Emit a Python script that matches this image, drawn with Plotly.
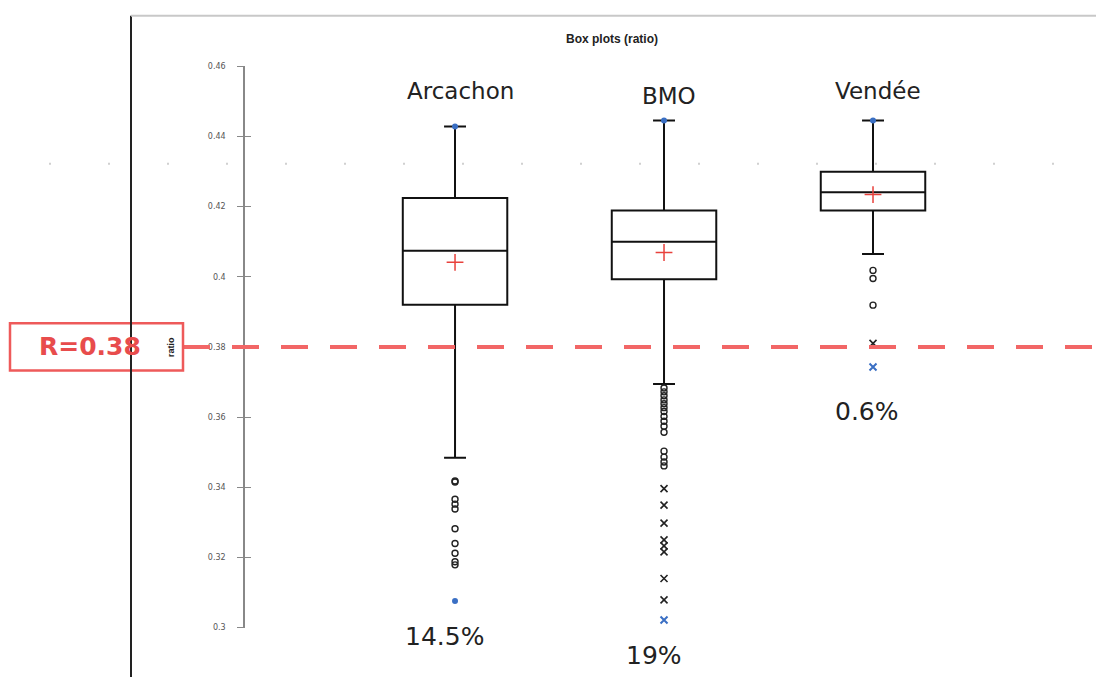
import plotly.graph_objects as go

# --- summary statistics per site -------------------------------------------
categories = ["Arcachon", "BMO", "Vendée"]
q1 = [0.3920, 0.3993, 0.4189]
median = [0.4074, 0.4100, 0.4241]
q3 = [0.4224, 0.4189, 0.4299]
mean = [0.4041, 0.4069, 0.4234]
lower_whisker = [0.3484, 0.3694, 0.4065]
upper_whisker = [0.4428, 0.4445, 0.4445]
maximum = [0.4428, 0.4445, 0.4445]
minimum = [0.3076, 0.3022, 0.3743]
share_below = ["14.5%", "19%", "0.6%"]

# moderate outliers (circles) and extreme outliers (crosses)
outliers_arcachon = [0.3418, 0.3415, 0.3366, 0.3352, 0.3338, 0.3282,
                     0.3240, 0.3212, 0.3188, 0.3179]
outliers_bmo = [0.3683, 0.3672, 0.3661, 0.3649, 0.3638, 0.3627, 0.3616,
                0.3602, 0.3588, 0.3574, 0.3557, 0.3503, 0.3486, 0.3472, 0.3461]
outliers_vendee = [0.4018, 0.3995, 0.3919]
extreme_bmo = [0.3396, 0.3349, 0.3298, 0.3250, 0.3233, 0.3216, 0.3140, 0.3079]
extreme_vendee = [0.3810]

threshold = 0.38
y_ticks = [0.30, 0.32, 0.34, 0.36, 0.38, 0.40, 0.42, 0.44, 0.46]
y_tick_text = ["0.3", "0.32", "0.34", "0.36", "0.38", "0.4", "0.42", "0.44", "0.46"]

W, H = 1096, 682
BLUE = "#3A6FC4"
RED = "#F26666"
TXT = "DejaVu Sans"


def px(x):
    return x / W


def py(y):
    return 1 - y / H


fig = go.Figure()

for cat, a, m, b, lo, hi in zip(categories, q1, median, q3, lower_whisker, upper_whisker):
    fig.add_trace(go.Box(
        x=[cat], q1=[a], median=[m], q3=[b], lowerfence=[lo], upperfence=[hi],
        boxpoints=False, width=0.5, whiskerwidth=0.21,
        line=dict(color="#111111", width=2),
        fillcolor="rgba(0,0,0,0)", hoverinfo="skip",
    ))

# moderate outliers
circ_x = [categories[0]] * len(outliers_arcachon) + [categories[1]] * len(outliers_bmo) \
    + [categories[2]] * len(outliers_vendee)
circ_y = outliers_arcachon + outliers_bmo + outliers_vendee
fig.add_trace(go.Scatter(
    x=circ_x, y=circ_y, mode="markers", cliponaxis=False,
    marker=dict(symbol="circle-open", size=6, color="#222222", line=dict(width=1.4)),
))

# extreme outliers
ext_x = [categories[1]] * len(extreme_bmo) + [categories[2]] * len(extreme_vendee)
ext_y = extreme_bmo + extreme_vendee
fig.add_trace(go.Scatter(
    x=ext_x, y=ext_y, mode="markers", cliponaxis=False,
    marker=dict(symbol="x-thin", size=7, line=dict(width=1.6, color="#222222")),
))

# minimum / maximum markers
fig.add_trace(go.Scatter(
    x=categories + categories[:1], y=maximum + minimum[:1], mode="markers",
    cliponaxis=False, marker=dict(symbol="circle", size=6, color=BLUE),
))
fig.add_trace(go.Scatter(
    x=categories[1:], y=minimum[1:], mode="markers", cliponaxis=False,
    marker=dict(symbol="x-thin", size=7, line=dict(width=2, color=BLUE)),
))

# means
fig.add_trace(go.Scatter(
    x=categories, y=mean, mode="markers", cliponaxis=False,
    marker=dict(symbol="cross-thin", size=12, line=dict(width=1.5, color="#E8413C")),
))

# companion axis carrying the inner half of the tick marks
fig.add_trace(go.Scatter(x=[], y=[], yaxis="y2", showlegend=False))

# threshold line
fig.add_shape(type="line", xref="paper", yref="y", x0=px(183), x1=1,
              y0=threshold, y1=threshold,
              line=dict(color=RED, width=4, dash="27px,22px"))
# threshold label box
half_h = 0.00675
fig.add_shape(type="rect", xref="paper", yref="y", x0=px(10), x1=px(183),
              y0=threshold - half_h, y1=threshold + half_h,
              line=dict(color="#EE5A5A", width=2.5), fillcolor="rgba(0,0,0,0)")
fig.add_annotation(x=px(90), y=threshold, xref="paper", yref="y",
                   xanchor="center", yanchor="middle",
                   text="<b>R=%.2f</b>" % threshold, showarrow=False,
                   font=dict(family=TXT, size=25, color="#E84C4C"))
fig.add_annotation(x=px(171), y=threshold, xref="paper", yref="y",
                   xanchor="center", yanchor="middle",
                   text="<b>ratio</b>", textangle=-90, showarrow=False,
                   font=dict(family="Liberation Sans", size=9, color="#222222"))

# frame lines
fig.add_shape(type="line", xref="paper", yref="paper", x0=px(131), x1=px(131),
              y0=py(12), y1=0, line=dict(color="#222222", width=2))
fig.add_shape(type="line", xref="paper", yref="paper", x0=px(131), x1=1,
              y0=py(12), y1=py(12), line=dict(color="#C8C8C8", width=2))
fig.add_shape(type="line", xref="paper", yref="paper", x0=px(49), x1=1,
              y0=py(162), y1=py(162), line=dict(color="#D0D0D0", width=2, dash="2px,57px"))

# title
fig.add_annotation(x=px(612), y=py(35), xref="paper", yref="paper",
                   xanchor="center", yanchor="middle",
                   text="<b>Box plots (ratio)</b>", showarrow=False,
                   font=dict(family="Liberation Sans", size=12, color="#222222"))

# site names and share below threshold
name_y = [88, 93, 88]
for cat, yy in zip(categories, name_y):
    fig.add_annotation(x=cat, y=py(yy), xref="x", yref="paper", text=cat,
                       xanchor="center", yanchor="middle",
                       showarrow=False, xshift=5,
                       font=dict(family=TXT, size=23, color="#222222"))
share_pos = [(-11, 641), (-10, 660), (-6, 413)]
for cat, s, (dx, yy) in zip(categories, share_below, share_pos):
    fig.add_annotation(x=cat, y=py(yy), xref="x", yref="paper", text=s,
                       xanchor="center", yanchor="middle",
                       showarrow=False, xshift=dx,
                       font=dict(family=TXT, size=25, color="#222222"))

y_domain = [py(632), py(63)]
fig.update_layout(
    width=W, height=H, margin=dict(l=0, r=0, t=0, b=0),
    paper_bgcolor="white", plot_bgcolor="white", showlegend=False,
    xaxis=dict(type="category", categoryorder="array", categoryarray=categories,
               domain=[px(245), 1], range=[-1.005, 3.067],
               showline=False, showgrid=False, zeroline=False,
               showticklabels=False, ticks=""),
    yaxis=dict(domain=y_domain, range=[0.30, 0.46], tickvals=y_ticks,
               ticktext=y_tick_text, ticks="outside", ticklen=6, tickwidth=1,
               tickcolor="#888888", showline=True, linecolor="#888888",
               linewidth=1.5, showgrid=False, zeroline=False,
               ticklabelstandoff=10,
               tickfont=dict(family=TXT, size=8, color="#555555")),
    yaxis2=dict(overlaying="y", anchor="x", side="left", range=[0.30, 0.46],
                tickvals=y_ticks, ticks="inside", ticklen=6, tickwidth=1,
                tickcolor="#888888", showticklabels=False, showline=False,
                showgrid=False, zeroline=False),
)

fig.write_html("out.html")
